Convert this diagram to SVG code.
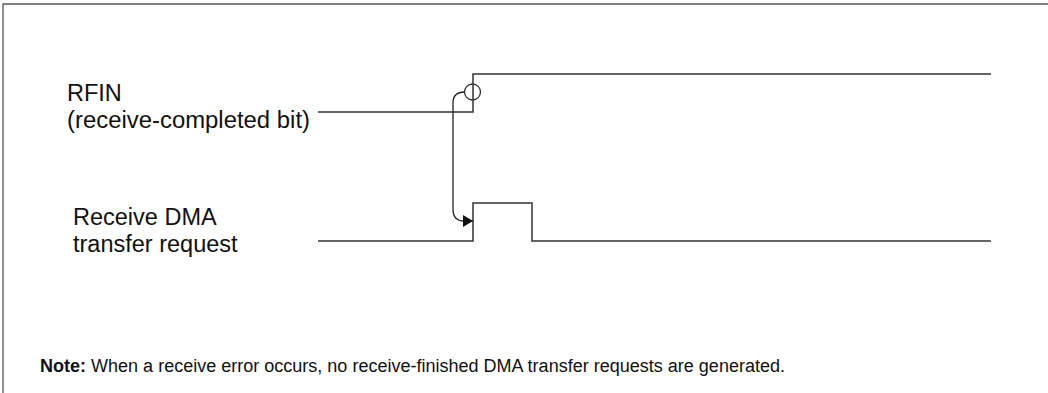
<svg xmlns="http://www.w3.org/2000/svg" width="1048" height="393" viewBox="0 0 1048 393">
<style>
.wave{fill:none;stroke:#333;stroke-width:1.5}
.frame{fill:none;stroke:#555;stroke-width:1.3}
.lbl{font-family:"Liberation Sans",Arial,sans-serif;font-size:23.5px;fill:#111}
.note{font-family:"Liberation Sans",Arial,sans-serif;font-size:18px;fill:#111}
</style>
<defs>
<marker id="arr" markerWidth="10" markerHeight="12" refX="10" refY="6" orient="auto" markerUnits="userSpaceOnUse">
<path d="M0,0 L10,6 L0,12 Z" fill="#111"/>
</marker>
</defs>
<polyline class="frame" points="3,393 3,4 1048,4"/>
<g id="rfin">
<text class="lbl" x="67" y="101">RFIN</text>
<text class="lbl" x="67" y="128" textLength="243" lengthAdjust="spacingAndGlyphs">(receive-completed bit)</text>
<polyline class="wave" points="318,112 473,112 473,74 991,74"/>
</g>
<g id="dma">
<text class="lbl" x="73" y="225">Receive DMA</text>
<text class="lbl" x="73" y="252">transfer request</text>
<polyline class="wave" points="318,241 473,241 473,203 532,203 532,241 991,241"/>
</g>
<g id="connectors">
<circle cx="472.5" cy="92" r="8" fill="none" stroke="#333" stroke-width="1.3"/>
<path d="M464.5,92 Q453,92 453,103 L453,209 Q453,221 464,221 L473,221" fill="none" stroke="#222" stroke-width="1.3" marker-end="url(#arr)"/>
</g>
<text class="note" x="40" y="372" textLength="745" lengthAdjust="spacingAndGlyphs"><tspan font-weight="bold">Note:</tspan> When a receive error occurs, no receive-finished DMA transfer requests are generated.</text>
</svg>
